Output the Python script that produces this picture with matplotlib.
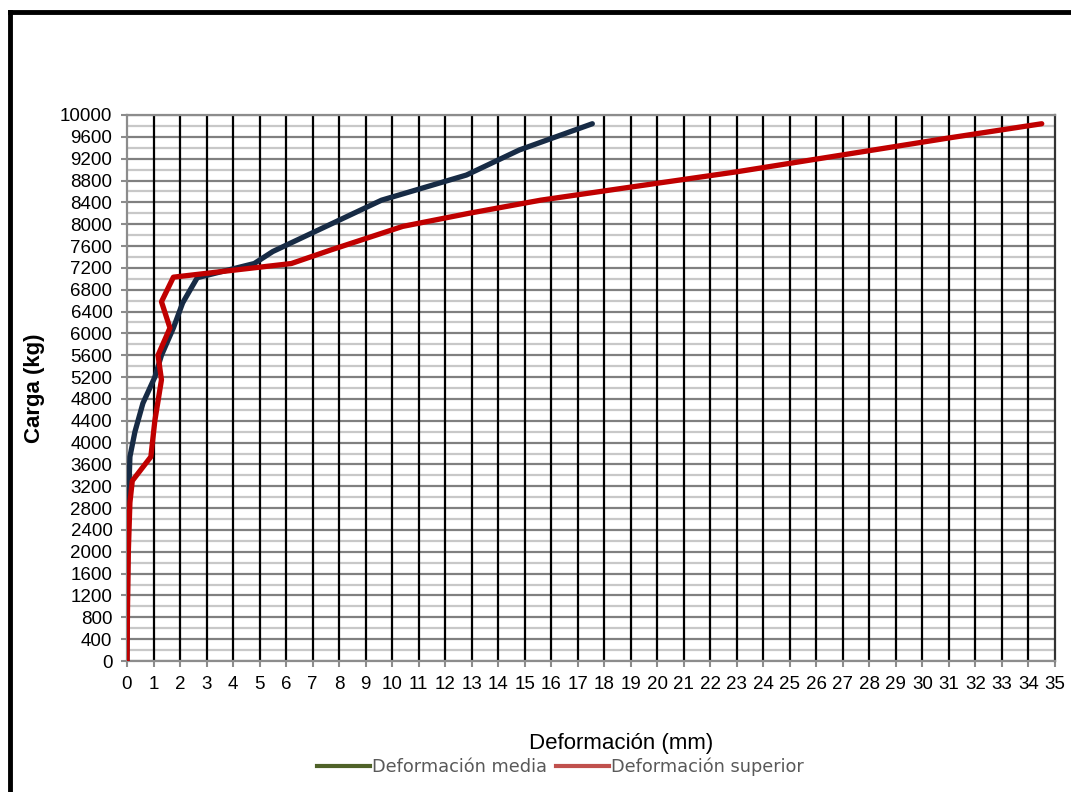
import matplotlib
matplotlib.use("Agg")
import matplotlib.pyplot as plt
from matplotlib.lines import Line2D
from matplotlib.ticker import MultipleLocator

# Data
media_x = [0, 0.02, 0.05, 0.11, 0.3, 0.6, 1.05, 1.3, 1.75, 2.1, 2.65, 4.8, 5.5, 9.6, 12.8, 14.8, 17.55]
media_y = [0, 1600, 2800, 3740, 4200, 4720, 5200, 5600, 6100, 6560, 7020, 7280, 7500, 8440, 8900, 9360, 9840]

sup_x = [0, 0.02, 0.05, 0.11, 0.2, 0.9, 1.05, 1.3, 1.17, 1.62, 1.3, 1.75, 6.2, 7.7, 10.4, 12.9, 15.6, 19.0, 23.0, 27.0, 31.0, 34.5]
sup_y = [0, 1000, 2000, 2900, 3300, 3740, 4400, 5150, 5600, 6100, 6580, 7030, 7280, 7530, 7960, 8200, 8440, 8680, 8960, 9270, 9580, 9840]

series_labels = ["Deformación media", "Deformación superior"]
x_label = "Deformación (mm)"
y_label = "Carga (kg)"

plt.rcParams["font.family"] = ["Liberation Sans", "DejaVu Sans"]
plt.rcParams["xtick.labelsize"] = 13.5
plt.rcParams["ytick.labelsize"] = 13.5

fig = plt.figure(figsize=(10.71, 7.92), dpi=100)
ax = fig.add_axes([127/1071, 1-661/792, 928/1071, 546/792])

ax.set_xlim(0, 35)
ax.set_ylim(0, 10000)
ax.xaxis.set_major_locator(MultipleLocator(1))
ax.yaxis.set_major_locator(MultipleLocator(400))
ax.yaxis.set_minor_locator(MultipleLocator(200))

# horizontal grid (below), vertical black lines on top of it
ax.grid(which="major", axis="y", color="#808080", linewidth=1.6, zorder=0.5)
ax.grid(which="minor", axis="y", color="#c8c8c8", linewidth=1.6, zorder=0.4)
ax.set_axisbelow(True)
xt = [t for t in ax.get_xticks() if 0 < t < 35]
ax.vlines(xt, 0, 10000, colors="black", linewidth=1.6, zorder=1)

for s in ["left", "bottom", "top", "right"]:
    ax.spines[s].set_color("#8c8c8c")
    ax.spines[s].set_linewidth(1.6)
ax.spines["right"].set_color("#333333")

ax.tick_params(axis="both", which="major", direction="out", length=4.5, width=1.5,
               color="#8c8c8c", pad=6, labelcolor="black")
ax.tick_params(axis="y", which="minor", length=0)

ax.plot(media_x, media_y, color="#172b45", linewidth=3.8, solid_capstyle="round", zorder=3)
ax.plot(sup_x, sup_y, color="#c00000", linewidth=3.8, solid_capstyle="round", zorder=4)

ax.set_ylabel(y_label, fontsize=16, fontweight="bold")
ax.yaxis.set_label_coords(-0.088, 0.5)
ax.set_xlabel(x_label, fontsize=16)
ax.xaxis.set_label_coords(0.532, -0.132)

handles = [Line2D([], [], color="#4f6228", linewidth=3),
           Line2D([], [], color="#c0504d", linewidth=3)]
fig.legend(handles, series_labels, loc="center", bbox_to_anchor=(560/1071, 1-767/792),
           ncol=2, frameon=False, handlelength=3.0, handletextpad=0.1,
           columnspacing=0.5, labelcolor="#595959",
           prop={"family": "DejaVu Sans", "size": 12.8})

# figure frame (top and left edges visible)
fig.add_artist(Line2D([10/1071, 1.0], [1-12/792, 1-12/792], transform=fig.transFigure,
                      color="black", linewidth=3.5))
fig.add_artist(Line2D([10/1071, 10/1071], [0, 1-12/792], transform=fig.transFigure,
                      color="black", linewidth=3.5))

fig.savefig("out.png", dpi=100)
